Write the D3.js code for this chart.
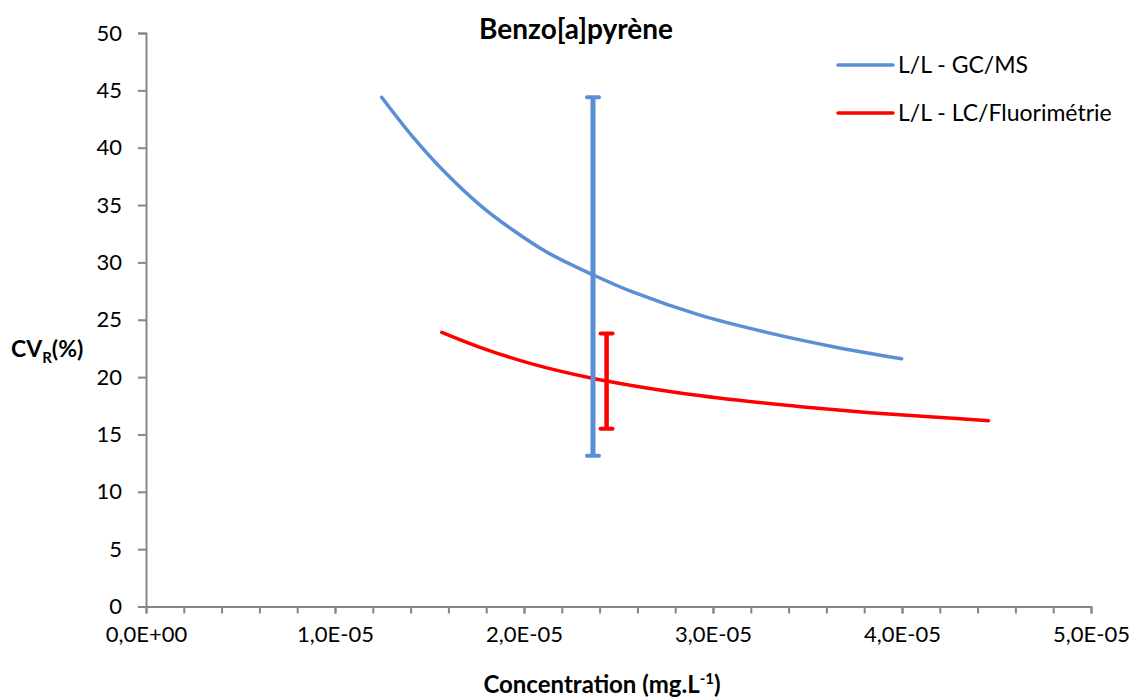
<!DOCTYPE html>
<html>
<head>
<meta charset="utf-8">
<script src="https://cdn.jsdelivr.net/npm/d3@7"></script>
<style>
  body { margin: 0; background: #fff; }
  text { font-family: Lato, "Noto Sans", sans-serif; fill: #000; }
</style>
</head>
<body>
<svg id="chart" width="1136" height="698"></svg>
<script>
// values
const gcmsConc = [1.247e-5, 1.414e-5, 1.591e-5, 1.767e-5, 1.943e-5, 2.12e-5, 2.367e-5, 2.578e-5, 2.931e-5, 3.284e-5, 3.637e-5, 3.998e-5];
const gcmsCv   = [44.4, 40.9, 37.7, 35.0, 32.8, 30.9, 28.9, 27.4, 25.4, 23.9, 22.65, 21.6];

const lcConc = [1.565e-5, 1.767e-5, 2.032e-5, 2.349e-5, 2.772e-5, 3.125e-5, 3.478e-5, 3.831e-5, 4.184e-5, 4.457e-5];
const lcCv   = [23.9, 22.6, 21.2, 19.95, 18.75, 18.0, 17.4, 16.9, 16.5, 16.2];

// error bars: [conc, low, high]
const gcmsErr = [2.365e-5, 13.15, 44.4];
const lcErr   = [2.437e-5, 15.5, 23.8];

const seriesNames = ["L/L - GC/MS", "L/L - LC/Fluorimétrie"];
const seriesColors = ["#5A8FD6", "#FF0000"];
const yTicks = d3.range(0, 51, 5);
const xMajor = d3.range(0, 6).map(d => d * 1e-5);
const xMinor = d3.range(0, 26).map(d => d * 2e-6);

const svg = d3.select("#chart");
const x = d3.scaleLinear().domain([0, 5e-5]).range([146, 1091]);
const y = d3.scaleLinear().domain([0, 50]).range([606.5, 33]);
const axisColor = "#868686";

function sciFmt(v){
  if (v === 0) return "0,0E+00";
  let e = Math.floor(Math.log10(Math.abs(v)) + 1e-9);
  let m = v / Math.pow(10, e);
  let es = (e < 0 ? "-" : "+") + String(Math.abs(e)).padStart(2, "0");
  return m.toFixed(1).replace(".", ",") + "E" + es;
}

// y axis
const gy = svg.append("g").attr("transform", "translate(146,0)")
  .call(d3.axisLeft(y).tickValues(yTicks).tickSize(8).tickPadding(16).tickFormat(d3.format("d")));
gy.select(".domain").attr("stroke", axisColor).attr("stroke-width", 2);
gy.selectAll(".tick line").attr("stroke", axisColor).attr("stroke-width", 2);
gy.selectAll("text").style("font-size", "22px").style("font-family", "Lato, sans-serif").attr("fill", "#000");

// x axis with minor ticks
const gxm = svg.append("g").attr("transform", "translate(0,606.5)")
  .call(d3.axisBottom(x).tickValues(xMinor).tickSize(7).tickFormat(""));
gxm.select(".domain").remove();
gxm.selectAll(".tick line").attr("stroke", axisColor).attr("stroke-width", 2);

const gx = svg.append("g").attr("transform", "translate(0,606.5)")
  .call(d3.axisBottom(x).tickValues(xMajor).tickSize(7).tickSizeOuter(0).tickPadding(13).tickFormat(sciFmt));
gx.select(".domain").attr("stroke", axisColor).attr("stroke-width", 2);
gx.selectAll(".tick line").attr("stroke", axisColor).attr("stroke-width", 2);
gx.selectAll("text").style("font-size", "22px").style("font-family", "Lato, sans-serif").attr("fill", "#000");

// curves
const line = d3.line().x(d => x(d[0])).y(d => y(d[1])).curve(d3.curveCatmullRom.alpha(0.5));
const series = [
  d3.zip(gcmsConc, gcmsCv),
  d3.zip(lcConc, lcCv)
];
svg.selectAll("path.series").data(series).join("path")
  .attr("class", "series")
  .attr("d", line)
  .attr("fill", "none")
  .attr("stroke", (d, i) => seriesColors[i])
  .attr("stroke-width", 3.5)
  .attr("stroke-linecap", "round");

// error bars
const errs = [gcmsErr, lcErr];
const eb = svg.selectAll("g.err").data(errs).join("g").attr("class", "err");
eb.append("line")
  .attr("x1", d => x(d[0])).attr("x2", d => x(d[0]))
  .attr("y1", d => y(d[1])).attr("y2", d => y(d[2]))
  .attr("stroke", (d, i) => seriesColors[i])
  .attr("stroke-width", (d, i) => i === 0 ? 5 : 4.5);
eb.selectAll("line.cap").data(d => [[d[0], d[1]], [d[0], d[2]]]).join("line")
  .attr("class", "cap")
  .attr("x1", d => x(d[0]) - 6).attr("x2", d => x(d[0]) + 6)
  .attr("y1", d => y(d[1])).attr("y2", d => y(d[1]))
  .attr("stroke-width", 4)
  .attr("stroke-linecap", "round");
eb.each(function(d, i){
  d3.select(this).selectAll("line.cap").attr("stroke", seriesColors[i]);
});

// title
svg.append("text").attr("x", 576).attr("y", 39).attr("text-anchor", "middle")
  .style("font-size", "28px").style("font-weight", "bold").text("Benzo[a]pyrène");

// axis titles
const xt = svg.append("text").attr("x", 602).attr("y", 693).attr("text-anchor", "middle")
  .style("font-size", "24px").style("font-weight", "bold");
xt.append("tspan").text("Concentration (mg.L");
xt.append("tspan").attr("dy", -9).style("font-size", "15px").text("-1");
xt.append("tspan").attr("dy", 9).text(")");

const yt = svg.append("text").attr("x", 11).attr("y", 357)
  .style("font-size", "23px").style("font-weight", "bold");
yt.append("tspan").text("CV");
yt.append("tspan").attr("dy", 6).style("font-size", "15px").text("R");
yt.append("tspan").attr("dy", -6).text("(%)");

// legend
const lg = svg.selectAll("g.legend").data(seriesNames).join("g")
  .attr("class", "legend")
  .attr("transform", (d, i) => `translate(838,${65 + i * 48})`);
lg.append("line").attr("x1", 0).attr("x2", 55).attr("y1", 0).attr("y2", 0)
  .attr("stroke", (d, i) => seriesColors[i]).attr("stroke-width", 3.5).attr("stroke-linecap", "round");
lg.append("text").attr("x", 60).attr("y", 0).attr("dy", "0.36em")
  .style("font-size", "23px").text(d => d);
</script>
</body>
</html>
